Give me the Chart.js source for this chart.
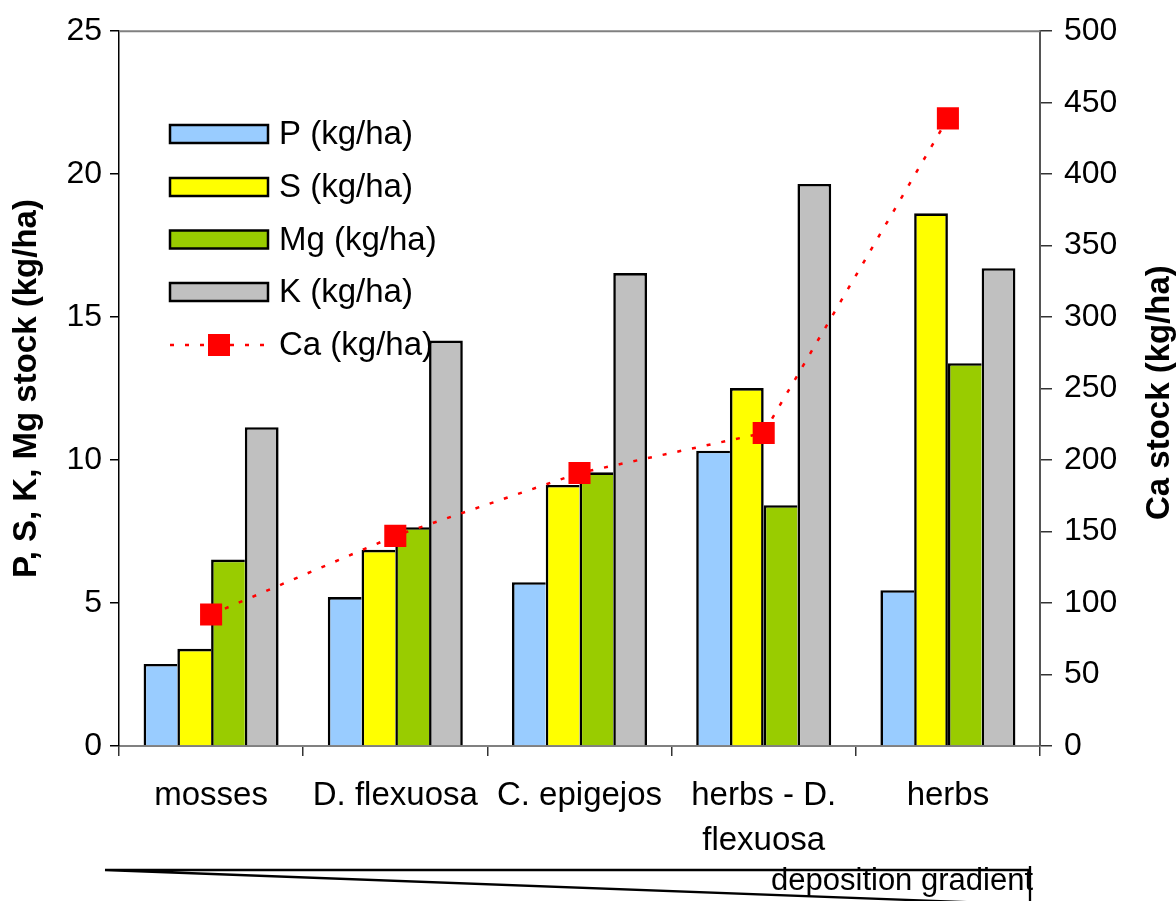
<!DOCTYPE html>
<html><head><meta charset="utf-8">
<script src="https://cdn.jsdelivr.net/npm/chart.js@4/dist/chart.umd.min.js"></script>
<style>html,body{margin:0;padding:0;background:#fff}#wrap{width:1176px;height:901px;position:relative}canvas{display:block}</style>
</head><body><div id="wrap"><canvas id="c" width="1176" height="901"></canvas></div>
<script>
const categories = ['mosses', 'D. flexuosa', 'C. epigejos', ['herbs - D.', 'flexuosa'], 'herbs'];
const seriesNames = ['P (kg/ha)', 'S (kg/ha)', 'Mg (kg/ha)', 'K (kg/ha)', 'Ca (kg/ha)'];
const P  = [2.87, 5.21, 5.73, 10.33, 5.45];
const S  = [3.40, 6.86, 9.13, 12.52, 18.63];
const Mg = [6.52, 7.65, 9.57, 8.42, 13.39];
const K  = [11.15, 14.18, 16.54, 19.66, 16.71];
const Ca = [92, 147, 191, 219, 439];
const leftAxisTitle = 'P, S, K, Mg stock (kg/ha)';
const rightAxisTitle = 'Ca stock (kg/ha)';
const gradientLabel = 'deposition gradient';

const FONT = "'Liberation Sans', Arial, sans-serif";
const colors = ['#99CCFF', '#FFFF00', '#99CC00', '#C0C0C0'];
const barSeries = [P, S, Mg, K];
const BW = 2.6;

function barBorder(k) {
  return ctx => {
    const i = ctx.dataIndex;
    const v = barSeries[k][i];
    const last = k === barSeries.length - 1;
    const right = (last || v > barSeries[k + 1][i]) ? BW : 0;
    return {top: BW, left: BW, right: right, bottom: 0};
  };
}

const datasets = barSeries.map((arr, k) => ({
  type: 'bar', label: seriesNames[k], data: arr, yAxisID: 'y',
  backgroundColor: colors[k], borderColor: '#000', borderWidth: barBorder(k),
  borderSkipped: false, barPercentage: 1.0, categoryPercentage: 0.733, order: 2
}));
datasets.push({
  type: 'line', label: seriesNames[4], data: Ca, yAxisID: 'y1',
  borderColor: '#FF0000', borderWidth: 2.5, borderDash: [4, 11], fill: false, tension: 0,
  pointStyle: 'rect', pointRadius: 15.6, pointHoverRadius: 15.6,
  pointBackgroundColor: '#FF0000', pointBorderColor: '#FF0000', pointBorderWidth: 0, order: 0
});

const decor = {
  id: 'decor',
  afterDraw(chart) {
    const c = chart.ctx, a = chart.chartArea;
    c.save();
    c.strokeStyle = '#808080'; c.lineWidth = 2;
    c.beginPath(); c.moveTo(a.left, a.top); c.lineTo(a.right, a.top); c.stroke();
    c.fillStyle = '#000';
    c.font = 'bold 33px ' + FONT;
    c.textAlign = 'center'; c.textBaseline = 'middle';
    c.translate(1160, (a.top + a.bottom) / 2 + 4);
    c.rotate(-Math.PI / 2);
    c.fillText(rightAxisTitle, 0, 0);
    c.restore();

    c.save();
    const lx = 170, lw = 98, bh = 18, rows = [134, 187, 239.5, 292, 345];
    c.font = '33px ' + FONT; c.textAlign = 'left'; c.textBaseline = 'middle';
    for (let k = 0; k < 4; k++) {
      const y = rows[k];
      c.fillStyle = colors[k]; c.fillRect(lx, y - bh / 2, lw, bh);
      c.strokeStyle = '#000'; c.lineWidth = 2.5; c.strokeRect(lx, y - bh / 2, lw, bh);
      c.fillStyle = '#000'; c.fillText(seriesNames[k], 279, y + 1);
    }
    const yc = rows[4];
    c.strokeStyle = '#FF0000'; c.lineWidth = 2.5; c.setLineDash([4, 11]);
    c.beginPath(); c.moveTo(lx, yc); c.lineTo(lx + lw, yc); c.stroke();
    c.setLineDash([]);
    c.fillStyle = '#FF0000'; c.fillRect(lx + lw / 2 - 11, yc - 11, 22, 22);
    c.fillStyle = '#000'; c.fillText(seriesNames[4], 279, yc + 1);
    c.restore();

    c.save();
    c.strokeStyle = '#000'; c.lineWidth = 2.3;
    c.beginPath();
    c.moveTo(1030, 870); c.lineTo(105, 870); c.lineTo(1030, 904.5); c.moveTo(1030, 866); c.lineTo(1030, 905);
    c.stroke();
    c.fillStyle = '#000'; c.font = '31px ' + FONT; c.textAlign = 'right'; c.textBaseline = 'alphabetic';
    c.fillText(gradientLabel, 1033, 890);
    c.restore();
  }
};

new Chart(document.getElementById('c'), {
  type: 'bar',
  data: {labels: categories, datasets: datasets},
  plugins: [decor],
  options: {
    responsive: false, animation: false,
    layout: {padding: {left: 0, right: 0, top: 30, bottom: 0}},
    plugins: {legend: {display: false}, tooltip: {enabled: false}},
    font: {family: FONT},
    scales: {
      x: {
        grid: {drawOnChartArea: false, offset: true, tickLength: 10, color: '#333', lineWidth: 1.5},
        border: {display: true, color: '#808080', width: 2},
        ticks: {color: '#000', font: {family: FONT, size: 33, lineHeight: 1.35}, padding: 18, maxRotation: 0, autoSkip: false},
        afterFit: s => { s.height = 155; }
      },
      y: {
        position: 'left', min: 0, max: 25,
        grid: {drawOnChartArea: false, tickLength: 9, color: '#000', lineWidth: 1.5},
        border: {display: true, color: '#000', width: 1.5},
        ticks: {stepSize: 5, color: '#000', font: {family: FONT, size: 32}, padding: 8},
        title: {display: true, text: leftAxisTitle, color: '#000', font: {family: FONT, size: 33, weight: 'bold'}, padding: {top: 7, bottom: 0}},
        afterFit: s => { s.width = 119; }
      },
      y1: {
        position: 'right', min: 0, max: 500,
        grid: {drawOnChartArea: false, tickLength: 12, color: '#333', lineWidth: 1.5},
        border: {display: true, color: '#555', width: 2},
        ticks: {stepSize: 50, color: '#000', font: {family: FONT, size: 32}, padding: 12},
        afterFit: s => { s.width = 136; }
      }
    }
  }
});
</script>
</body></html>
